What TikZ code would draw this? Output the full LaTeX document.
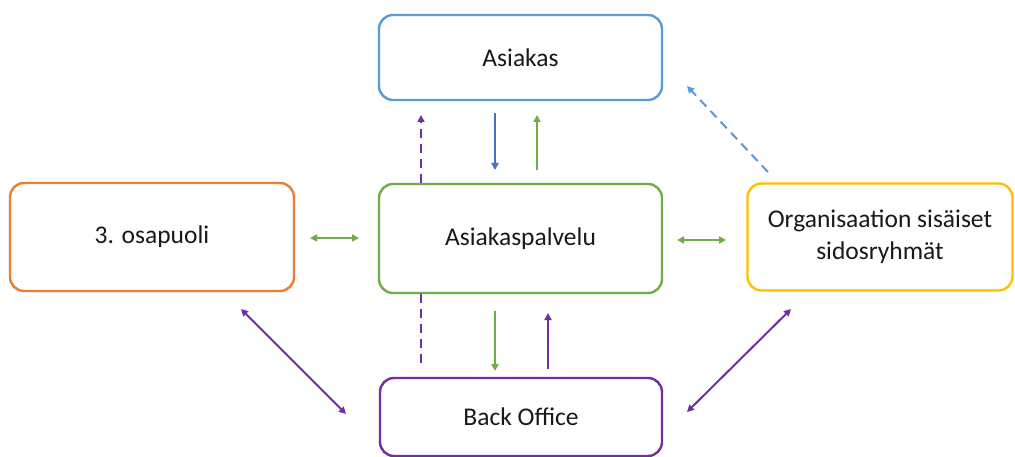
\documentclass[tikz,border=0pt]{standalone}
\usepackage{fontspec}
\setmainfont{Carlito}
\usetikzlibrary{arrows.meta}
\definecolor{cblue}{HTML}{5B9BD5}
\definecolor{cdblue}{HTML}{4472C4}
\definecolor{cgreen}{HTML}{70AD47}
\definecolor{corange}{HTML}{ED7D31}
\definecolor{cyellow}{HTML}{FFC000}
\definecolor{cpurple}{HTML}{7030A0}
\tikzset{
  box/.style={draw, line width=2.4pt, rounded corners=14pt, fill=white, inner sep=0pt,
    align=center, font=\fontsize{25.5}{32}\selectfont, text=black!90},
  conn/.style={line width=2pt, -{Triangle[length=7pt,width=7pt]}},
  dconn/.style={line width=2pt, {Triangle[length=7pt,width=7pt]}-{Triangle[length=7pt,width=7pt]}},
  dashline/.style={dash pattern=on 9pt off 6pt}
}
\begin{document}
\begin{tikzpicture}[x=1pt,y=-1pt]
\useasboundingbox[fill=white] (0,0) rectangle (1015,457);
\node[box, draw=cblue, minimum width=283pt, minimum height=85pt] (asiakas) at (520.5,57.5) {Asiakas};
\node[box, draw=cgreen, minimum width=283pt, minimum height=109pt] (palvelu) at (520.5,238.5) {Asiakaspalvelu};
\node[box, draw=corange, minimum width=284pt, minimum height=108pt] (osapuoli) at (152,237) {3. osapuoli};
\node[box, draw=cyellow, minimum width=265pt, minimum height=107pt] (org) at (880,237) {Organisaation sisäiset\\sidosryhmät};
\node[box, draw=cpurple, minimum width=282pt, minimum height=78pt] (back) at (521,417) {Back Office};

% top connectors
\coordinate (pd1) at (421,115);
\draw[conn, cpurple, dashline] (palvelu.north -| pd1) -- (pd1);
\coordinate (bd1) at (495,113);
\coordinate (bd2) at (495,170);
\draw[conn, cdblue] (bd1) -- (bd2);
\coordinate (gu1) at (537,170);
\coordinate (gu2) at (537,115);
\draw[conn, cgreen] (gu1) -- (gu2);
\coordinate (od1) at (768,172);
\coordinate (od2) at (687,86);
\draw[conn, cblue, dashline] (od1) -- (od2);

% side connectors
\coordinate (gl1) at (310,238);
\coordinate (gl2) at (359,238);
\draw[dconn, cgreen] (gl1) -- (gl2);
\coordinate (gr1) at (677,240);
\coordinate (gr2) at (726,240);
\draw[dconn, cgreen] (gr1) -- (gr2);

% bottom connectors
\coordinate (pd2) at (421,367);
\draw[line width=2pt, cpurple, dashline] (palvelu.south -| pd2) -- (pd2);
\coordinate (gd1) at (495,311);
\coordinate (gd2) at (495,371);
\draw[conn, cgreen] (gd1) -- (gd2);
\coordinate (pu1) at (548,369);
\coordinate (pu2) at (548,313);
\draw[conn, cpurple] (pu1) -- (pu2);
\coordinate (dl1) at (241,309);
\coordinate (dl2) at (346,414);
\draw[dconn, cpurple] (dl1) -- (dl2);
\coordinate (dr1) at (791,309);
\coordinate (dr2) at (687,412);
\draw[dconn, cpurple] (dr1) -- (dr2);
\end{tikzpicture}
\end{document}
